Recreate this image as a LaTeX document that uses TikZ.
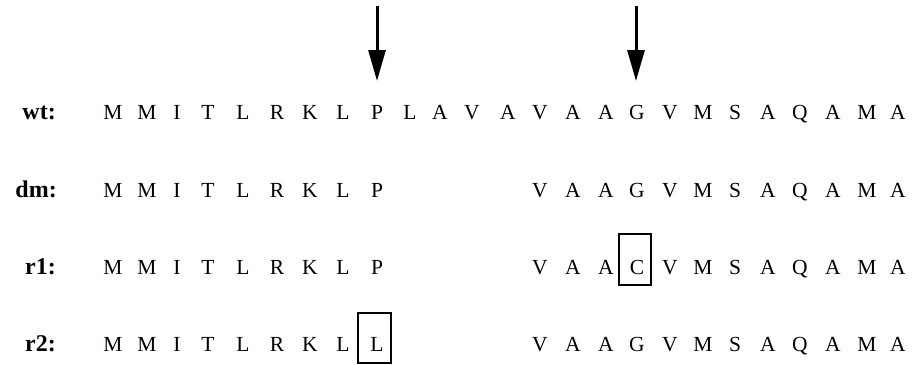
\documentclass[tikz,border=0pt]{standalone}
\usepackage{fontspec}
\setmainfont{Liberation Serif}
\usetikzlibrary{arrows.meta,calc}
\tikzset{
  res/.style={font=\fontsize{21.5}{25}\selectfont, inner sep=0pt, anchor=base},
  lab/.style={font=\fontsize{24}{28}\selectfont\bfseries, inner sep=0pt, anchor=base east},
  arr/.style={line width=3pt, -{Triangle[length=31pt,width=17pt]}},
  mutbox/.style={line width=1.6pt},
}
\newcommand{\placerow}[3]{%
  \foreach \c/\l in {#3}{%
    \pgfmathsetmacro\xx{{113,147,177,208,243,277,310,343,377,410,440,472,508,540,573,606,637,670,703,735,768,800,833,867,898}[\c-1]}%
    \node[res] (#1\c) at (\xx,#2) {\l};
  }}
\begin{document}
\begin{tikzpicture}[x=1pt,y=-1pt]
\useasboundingbox (0,0) rectangle (915,364);
% labels
\node[lab] (lwt) at (56,119) {wt:};
\node[lab] (ldm) at (57,197) {dm:};
\node[lab] (lr1) at (56,274) {r1:};
\node[lab] (lr2) at (56,351) {r2:};
% rows
\placerow{wt-}{119}{1/M,2/M,3/I,4/T,5/L,6/R,7/K,8/L,9/P,10/L,11/A,12/V,13/A,14/V,15/A,16/A,17/G,18/V,19/M,20/S,21/A,22/Q,23/A,24/M,25/A}
\placerow{dm-}{197}{1/M,2/M,3/I,4/T,5/L,6/R,7/K,8/L,9/P,14/V,15/A,16/A,17/G,18/V,19/M,20/S,21/A,22/Q,23/A,24/M,25/A}
\placerow{r1-}{274}{1/M,2/M,3/I,4/T,5/L,6/R,7/K,8/L,9/P,14/V,15/A,16/A,17/C,18/V,19/M,20/S,21/A,22/Q,23/A,24/M,25/A}
\placerow{r2-}{351}{1/M,2/M,3/I,4/T,5/L,6/R,7/K,8/L,9/L,14/V,15/A,16/A,17/G,18/V,19/M,20/S,21/A,22/Q,23/A,24/M,25/A}
% arrows
\coordinate (a1top) at (377,6);
\coordinate (a1tip) at (377,81);
\coordinate (a2top) at (636,6);
\coordinate (a2tip) at (636,81);
\draw[arr] (a1top) -- (a1tip);
\draw[arr] (a2top) -- (a2tip);
% mutation boxes
\draw[mutbox] ($(r1-17.base)+(-18,-40)$) rectangle ($(r1-17.base)+(14,11)$);
\draw[mutbox] ($(r2-9.base)+(-19,-38)$) rectangle ($(r2-9.base)+(14,12)$);
\end{tikzpicture}
\end{document}
